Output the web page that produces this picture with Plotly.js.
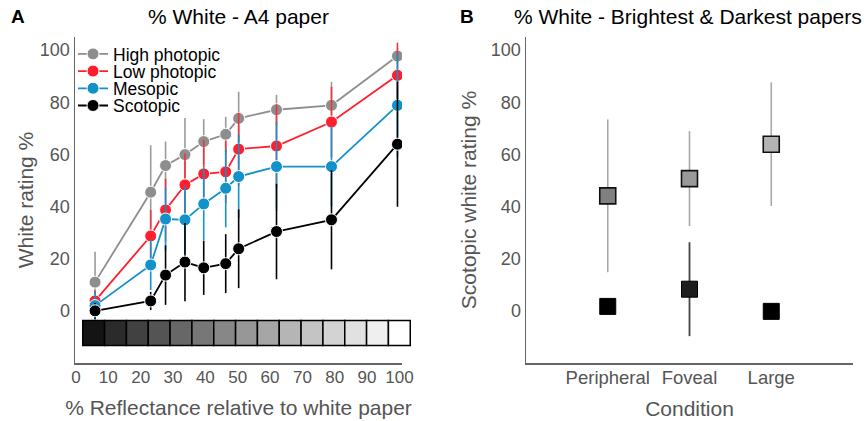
<!DOCTYPE html>
<html>
<head>
<meta charset="utf-8">
<script src="https://cdn.plot.ly/plotly-3.0.1.min.js"></script>
<style>html,body{margin:0;padding:0;background:#fff}#chart{width:866px;height:421px}</style>
</head>
<body>
<div id="chart"></div>
<script>
// ---------- Panel A data ----------
const reflectance = [5.9, 23.1, 27.7, 33.7, 39.5, 46.3, 50.3, 62, 79, 99.4];
const highPhotopic = [11, 45.5, 55.7, 59.9, 64.9, 67.7, 73.8, 77.1, 78.8, 97.7];
const highPhotopicErr = [11.7, 18, 9.2, 14, 8.6, 6.7, 10.2, 5.7, 9, 3];
const lowPhotopic = [3.8, 28.7, 38.7, 48.3, 52.5, 53.3, 62, 63.2, 72.4, 90.3];
const lowPhotopicErr = [4, 10, 12, 12, 13, 12, 14, 16, 13.5, 12.5];
const mesopic = [2, 17.6, 35.2, 34.9, 41, 47, 51.5, 55.3, 55.3, 78.8];
const mesopicErr = [5.4, 9.6, 12, 13, 14, 15, 16, 17, 15.3, 20];
const scotopic = [0, 3.8, 13.7, 18.7, 16.5, 18.1, 23.8, 30.4, 34.9, 63.9];
const scotopicErr = [3, 3.5, 11.4, 15, 10.4, 11.3, 15.1, 18.3, 19, 24];
const seriesNames = ['High photopic', 'Low photopic', 'Mesopic', 'Scotopic'];
const xTicks = [0, 10, 20, 30, 40, 50, 60, 70, 80, 90, 100];
const yTicks = [0, 20, 40, 60, 80, 100];

// grey-scale paper strip (one shade per paper)
const stripShades = ['#141414', '#2b2b2b', '#414141', '#545454', '#676767', '#777777', '#878787',
  '#979797', '#a6a6a6', '#b5b5b5', '#c4c4c4', '#d3d3d3', '#e1e1e1', '#efefef', '#ffffff'];

// ---------- Panel B data ----------
const conditions = ['Peripheral', 'Foveal', 'Large'];
const brightest = [44.1, 50.7, 63.9];
const brightestErr = [29.3, 18.2, 23.7];
const brightestFill = ['#808080', '#999999', '#b3b3b3'];
const darkest = [1.7, 8.3, -0.2];
const darkestErr = [0, 18, 0];
const darkestFill = ['#000000', '#1e1e1e', '#000000'];

// ---------- styling ----------
const FONT = 'Liberation Sans, Arial, Helvetica, sans-serif';
const seriesColors = ['#8e8e8e', '#ff1f2f', '#1391c9', '#000000'];
const errColors = ['#9a9a9a', '#f0323e', '#1391c9', '#000000'];
const seriesY = [highPhotopic, lowPhotopic, mesopic, scotopic];
const seriesErr = [highPhotopicErr, lowPhotopicErr, mesopicErr, scotopicErr];
const legendIds = ['legend', 'legend2', 'legend3', 'legend4'];

const W = 866, PH = 326;
const xRangeA = [-0.3, 100.8];
const domA = [75 / W, 402 / W];
// the strip runs a little past the end of the x axis, so it sits on a hidden,
// wider axis that keeps the same data-to-pixel scale as the A x axis
const domStrip = [75 / W, 415 / W];
const xRangeStrip = [xRangeA[0], xRangeA[0] + (xRangeA[1] - xRangeA[0]) * (domStrip[1] - domStrip[0]) / (domA[1] - domA[0])];

const traces = [];

const stripStart = 2.1, stripStep = 6.75, stripTop = -3.7, stripBottom = -13.3;
traces.push({
  type: 'bar', xaxis: 'x3', yaxis: 'y',
  x: stripShades.map((_, i) => stripStart + stripStep * (i + 0.5)),
  y: stripShades.map(() => stripTop - stripBottom),
  base: stripBottom, width: stripStep,
  marker: {color: stripShades, line: {color: '#000', width: 1.5}},
  showlegend: false, hoverinfo: 'skip'
});

seriesNames.forEach((name, i) => {
  traces.push({
    type: 'scatter', mode: 'lines+markers', name: name, legend: legendIds[i],
    xaxis: 'x', yaxis: 'y',
    x: reflectance, y: seriesY[i],
    line: {color: seriesColors[i], width: 1.8},
    marker: {color: seriesColors[i], size: 12, line: {color: '#fff', width: 1}},
    error_y: {type: 'data', array: seriesErr[i], visible: true, color: errColors[i], thickness: 1.6, width: 0}
  });
});

traces.push({
  type: 'scatter', mode: 'markers', xaxis: 'x2', yaxis: 'y2',
  x: conditions, y: brightest, showlegend: false,
  marker: {symbol: 'square', size: 16, color: brightestFill, line: {color: '#111', width: 1.6}},
  error_y: {type: 'data', array: brightestErr, visible: true, color: '#a8a8a8', thickness: 1.6, width: 0}
});
traces.push({
  type: 'scatter', mode: 'markers', xaxis: 'x2', yaxis: 'y2',
  x: conditions, y: darkest, showlegend: false,
  marker: {symbol: 'square', size: 16, color: darkestFill, line: {color: '#000', width: 1}},
  error_y: {type: 'data', array: darkestErr, visible: true, color: '#444', thickness: 1.8, width: 0}
});

const axisCommon = {
  showline: true, linecolor: '#666', linewidth: 1.5, showgrid: false, zeroline: false,
  ticks: '', tickfont: {family: FONT, size: 17, color: '#555'}, fixedrange: true
};

const layout = {
  width: 866, height: 421,
  margin: {l: 0, r: 0, t: 37, b: 58},
  paper_bgcolor: '#fff', plot_bgcolor: 'rgba(0,0,0,0)',
  font: {family: FONT},
  showlegend: true,
  xaxis: Object.assign({}, axisCommon, {
    domain: domA, range: xRangeA, tickvals: xTicks, ticklabelstandoff: -2,
    title: {text: '% Reflectance relative to white paper', font: {family: FONT, size: 21, color: '#555'}, standoff: 14}
  }),
  yaxis: Object.assign({}, axisCommon, {
    anchor: 'x', range: [-20, 105], tickvals: yTicks, tickfont: {family: FONT, size: 18, color: '#555'},
    title: {text: 'White rating %', font: {family: FONT, size: 21, color: '#555'}, standoff: 0}
  }),
  xaxis3: {domain: domStrip, range: xRangeStrip, anchor: 'y', visible: false, showgrid: false, zeroline: false, fixedrange: true},
  xaxis2: Object.assign({}, axisCommon, {
    domain: [526 / W, 853 / W], anchor: 'y2', range: [-1, 3], type: 'category', ticklabelstandoff: -3,
    tickfont: {family: FONT, size: 18.5, color: '#555'},
    title: {text: 'Condition', font: {family: FONT, size: 21, color: '#555'}, standoff: 14}
  }),
  yaxis2: Object.assign({}, axisCommon, {
    anchor: 'x2', range: [-20, 105], tickvals: yTicks, tickfont: {family: FONT, size: 18, color: '#555'},
    title: {text: 'Scotopic white rating %', font: {family: FONT, size: 21, color: '#555'}, standoff: 8}
  }),
  annotations: [
    {text: '<b>A</b>', xref: 'paper', yref: 'paper', x: 18 / W, y: 1 + 20 / PH, xanchor: 'center', yanchor: 'middle', showarrow: false, font: {family: FONT, size: 19, color: '#000'}},
    {text: '<b>B</b>', xref: 'paper', yref: 'paper', x: 467 / W, y: 1 + 20 / PH, xanchor: 'center', yanchor: 'middle', showarrow: false, font: {family: FONT, size: 19, color: '#000'}},
    {text: '% White - A4 paper', xref: 'paper', yref: 'paper', x: 238 / W, y: 1 + 20 / PH, xanchor: 'center', yanchor: 'middle', showarrow: false, font: {family: FONT, size: 21, color: '#000'}},
    {text: '% White - Brightest & Darkest papers', xref: 'paper', yref: 'paper', x: 688 / W, y: 1 + 20 / PH, xanchor: 'center', yanchor: 'middle', showarrow: false, font: {family: FONT, size: 21, color: '#000'}}
  ]
};

// one legend box per series so the rows can sit as tightly as in the reference
legendIds.forEach((id, i) => {
  layout[id] = {
    x: 73 / W, xanchor: 'left', y: 1 - (54 + 17.2 * i - 37) / PH, yanchor: 'middle',
    font: {family: FONT, size: 17.5, color: '#000'}, bgcolor: 'rgba(0,0,0,0)', borderwidth: 0, itemwidth: 30
  };
});

Plotly.newPlot('chart', traces, layout, {displayModeBar: false, staticPlot: true});
</script>
</body>
</html>
